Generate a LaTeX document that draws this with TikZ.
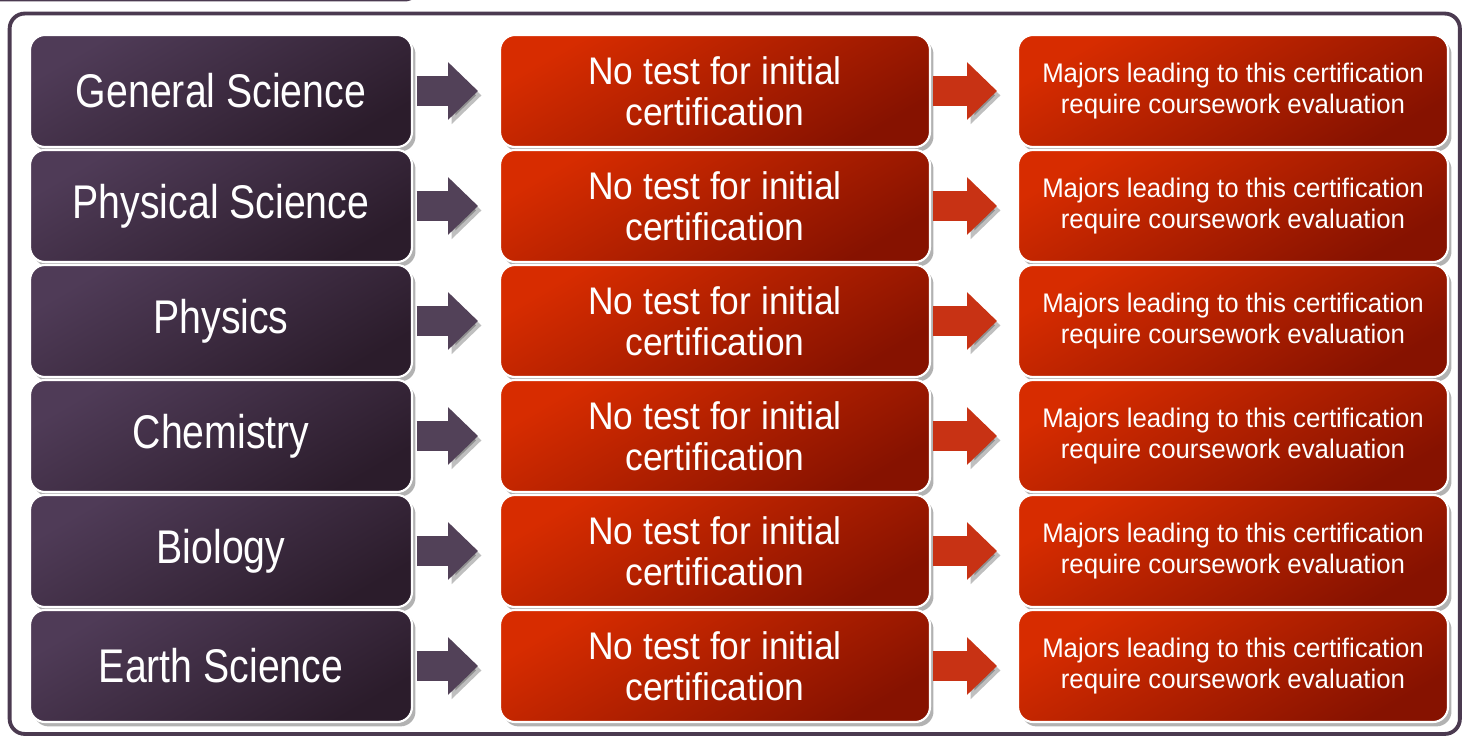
\documentclass[tikz,border=0pt]{standalone}
\usepackage{fontspec}
\setmainfont{Liberation Sans}
\newfontfamily\fieldfont{Liberation Sans}[FakeStretch=0.83]
\newfontfamily\testfont{Liberation Sans}[FakeStretch=0.92]
\newfontfamily\notefont{Liberation Sans}[FakeStretch=0.96]
\usetikzlibrary{arrows.meta,shadows}
\definecolor{framecolor}{HTML}{4B3A50}
\definecolor{fieldtop}{HTML}{4F3B57}
\definecolor{fieldbottom}{HTML}{2B1C2B}
\definecolor{redtop}{HTML}{D72C00}
\definecolor{redbottom}{HTML}{861200}
\definecolor{fieldarrow}{HTML}{524158}
\definecolor{redarrow}{HTML}{C83214}
\tikzstyle{boxshadow}=[drop shadow={shadow xshift=2pt,shadow yshift=-2.5pt,opacity=0.3,fill=black}]
\tikzstyle{fieldelement}=[draw=white,line width=1.2pt,rounded corners=0.3cm,minimum width=7.64cm,minimum height=2.24cm,boxshadow,top color=fieldtop,bottom color=fieldbottom,shading angle=30,text=white,font=\fieldfont\fontsize{26.9}{28}\selectfont]
\tikzstyle{testelement}=[draw=white,line width=1.2pt,rounded corners=0.3cm,minimum width=8.6cm,minimum height=2.24cm,boxshadow,top color=redtop,bottom color=redbottom,shading angle=30,text=white,align=center,font=\testfont\fontsize{21.9}{23.6}\selectfont]
\tikzstyle{noteelement}=[testelement,font=\notefont\fontsize{15.3}{17.4}\selectfont]
\tikzstyle{fatarc}=[line width=17pt,-{Triangle[length=17pt,width=31.7pt]},preaction={draw=black,draw opacity=0.25,fill opacity=0.25,transform canvas={shift={(2pt,-2.5pt)}}}]

\begin{document}
\begin{tikzpicture}[x=0.02cm,y=-0.02cm]
\useasboundingbox (0,0) rectangle (1462,736);

\node[draw=framecolor,line width=1.7pt,rounded corners=0.3cm,minimum width=9cm,minimum height=2cm,anchor=south east] (TOPBOX) at (421,1.5) {};
\node[draw=framecolor,line width=2.2pt,rounded corners=0.3cm,minimum width=29.01cm,minimum height=14.41cm] (FRAME) at (734.75,373.75) {};

\node[fieldelement] (F1) at (221,91) {General Science};
\node[fieldelement] (F2) at (221,206) {Physical Science};
\node[fieldelement] (F3) at (221,321) {Physics};
\node[fieldelement] (F4) at (221,436) {Chemistry};
\node[fieldelement] (F5) at (221,551) {Biology};
\node[fieldelement] (F6) at (221,666) {Earth Science};

\node[testelement] (T1) at (715,91) {No test for initial\\certification};
\node[testelement] (T2) at (715,206) {No test for initial\\certification};
\node[testelement] (T3) at (715,321) {No test for initial\\certification};
\node[testelement] (T4) at (715,436) {No test for initial\\certification};
\node[testelement] (T5) at (715,551) {No test for initial\\certification};
\node[testelement] (T6) at (715,666) {No test for initial\\certification};

\node[noteelement] (C1) at (1233,91) {Majors leading to this certification\\require coursework evaluation};
\node[noteelement] (C2) at (1233,206) {Majors leading to this certification\\require coursework evaluation};
\node[noteelement] (C3) at (1233,321) {Majors leading to this certification\\require coursework evaluation};
\node[noteelement] (C4) at (1233,436) {Majors leading to this certification\\require coursework evaluation};
\node[noteelement] (C5) at (1233,551) {Majors leading to this certification\\require coursework evaluation};
\node[noteelement] (C6) at (1233,666) {Majors leading to this certification\\require coursework evaluation};

\draw[fatarc,fieldarrow] ([xshift=2pt]F1.east) -- ([xshift=-0.42cm]T1.west);
\draw[fatarc,fieldarrow] ([xshift=2pt]F2.east) -- ([xshift=-0.42cm]T2.west);
\draw[fatarc,fieldarrow] ([xshift=2pt]F3.east) -- ([xshift=-0.42cm]T3.west);
\draw[fatarc,fieldarrow] ([xshift=2pt]F4.east) -- ([xshift=-0.42cm]T4.west);
\draw[fatarc,fieldarrow] ([xshift=2pt]F5.east) -- ([xshift=-0.42cm]T5.west);
\draw[fatarc,fieldarrow] ([xshift=2pt]F6.east) -- ([xshift=-0.42cm]T6.west);

\draw[fatarc,redarrow] ([xshift=1pt]T1.east) -- ([xshift=-0.4cm]C1.west);
\draw[fatarc,redarrow] ([xshift=1pt]T2.east) -- ([xshift=-0.4cm]C2.west);
\draw[fatarc,redarrow] ([xshift=1pt]T3.east) -- ([xshift=-0.4cm]C3.west);
\draw[fatarc,redarrow] ([xshift=1pt]T4.east) -- ([xshift=-0.4cm]C4.west);
\draw[fatarc,redarrow] ([xshift=1pt]T5.east) -- ([xshift=-0.4cm]C5.west);
\draw[fatarc,redarrow] ([xshift=1pt]T6.east) -- ([xshift=-0.4cm]C6.west);

\end{tikzpicture}
\end{document}
